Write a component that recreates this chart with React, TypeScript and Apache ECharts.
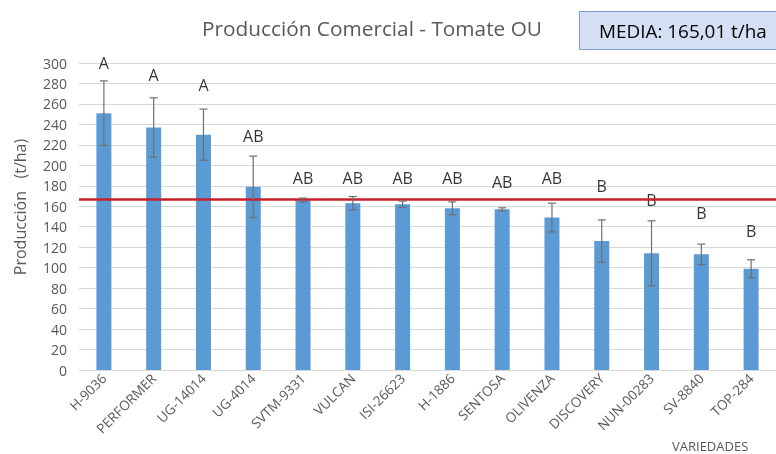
import React, { useEffect, useRef } from "react";
import * as echarts from "echarts";

const categories = ["H-9036", "PERFORMER", "UG-14014", "UG-4014", "SVTM-9331", "VULCAN", "ISI-26623", "H-1886", "SENTOSA", "OLIVENZA", "DISCOVERY", "NUN-00283", "SV-8840", "TOP-284"];
const means = [251, 237, 230, 179, 166, 163, 162, 158, 157, 149, 126, 114, 113, 99];
const errors = [31.5, 29, 25, 30, 2, 6.5, 3, 6.3, 1.5, 14, 20.7, 31.8, 10, 8.7];
const letters = ["A", "A", "A", "AB", "AB", "AB", "AB", "AB", "AB", "AB", "B", "B", "B", "B"];
const letterPos = [300, 288, 278.5, 229, 187.5, 187.5, 187.5, 187.5, 184, 187.5, 180, 166, 153.4, 136];
const meanLine = 167;
const titleText = "Producción Comercial - Tomate OU";
const boxText = "MEDIA: 165,01 t/ha";
const yName = "Producción   (t/ha)";
const xName = "VARIEDADES";

export default function App() {
  const ref = useRef<HTMLDivElement>(null);
  useEffect(() => {
    if (!ref.current) return;
    const chart = echarts.init(ref.current, null, { renderer: "svg" });
    const font = "Open Sans";
    const errData = means.map((m, i) => [i, m - errors[i], m + errors[i]]);
    const letterData = letterPos.map((v, i) => [i, v]);
    chart.setOption({
      animation: false,
      textStyle: { fontFamily: font },
      title: {
        text: titleText,
        left: 197,
        top: 12,
        textStyle: { fontSize: 20.8, fontWeight: "normal", color: "#595959", fontFamily: font },
      },
      grid: { left: 79, right: -3, top: 63, bottom: 84, containLabel: false },
      xAxis: {
        type: "category",
        data: categories,
        axisTick: { show: false },
        axisLine: { lineStyle: { color: "#d9d9d9" } },
        axisLabel: { rotate: 45, interval: 0, fontSize: 13.5, color: "#595959", margin: 6, fontFamily: font },
      },
      yAxis: {
        type: "value",
        min: 0,
        max: 300,
        interval: 20,
        axisLine: { show: false },
        axisTick: { show: false },
        axisLabel: { fontSize: 14, color: "#595959", margin: 12, fontFamily: font },
        splitLine: { lineStyle: { color: "#d9d9d9" } },
      },
      series: [
        {
          type: "bar",
          data: means,
          barWidth: 15,
          itemStyle: { color: "#5b9bd5" },
          markLine: {
            silent: true,
            symbol: "none",
            label: { show: false },
            lineStyle: { color: "#c8202a", width: 2.5, type: "solid" },
            data: [{ yAxis: meanLine }],
          },
        },
        {
          type: "custom",
          data: errData,
          z: 5,
          renderItem: (params: any, api: any) => {
            const x = api.value(0);
            const lo = api.coord([x, api.value(1)]);
            const hi = api.coord([x, api.value(2)]);
            const hw = 4;
            const style = { stroke: "#6f6f6f", lineWidth: 1.2 };
            return {
              type: "group",
              children: [
                { type: "line", shape: { x1: hi[0], y1: hi[1], x2: lo[0], y2: lo[1] }, style },
                { type: "line", shape: { x1: hi[0] - hw, y1: hi[1], x2: hi[0] + hw, y2: hi[1] }, style },
                { type: "line", shape: { x1: lo[0] - hw, y1: lo[1], x2: lo[0] + hw, y2: lo[1] }, style },
              ],
            };
          },
        },
        {
          type: "scatter",
          data: letterData,
          symbol: "circle",
          symbolSize: 1,
          itemStyle: { color: "rgba(0,0,0,0)" },
          label: {
            show: true,
            position: "inside",
            formatter: (p: any) => letters[p.dataIndex],
            fontSize: 16,
            color: "#000",
            fontFamily: font,
          },
        },
      ],
      graphic: [
        {
          type: "rect",
          shape: { x: 579.5, y: 11.5, width: 210, height: 38 },
          style: { fill: "#d5e0f4", stroke: "#7d9bd1", lineWidth: 1 },
        },
        {
          type: "text",
          x: 599,
          y: 31,
          style: { text: boxText, fontSize: 18.9, fill: "#000", fontFamily: font, verticalAlign: "middle" },
        },
        {
          type: "text",
          x: 20,
          y: 207,
          rotation: Math.PI / 2,
          style: { text: yName, fontSize: 16, fill: "#595959", fontFamily: font, align: "center", verticalAlign: "middle" },
        },
        {
          type: "text",
          x: 672,
          y: 438,
          style: { text: xName, fontSize: 13, lineHeight: 15, fill: "#595959", fontFamily: font },
        },
      ],
    });
    return () => chart.dispose();
  }, []);
  return <div ref={ref} style={{ position: "fixed", left: 0, top: 0, width: 776, height: 454 }} />;
}
